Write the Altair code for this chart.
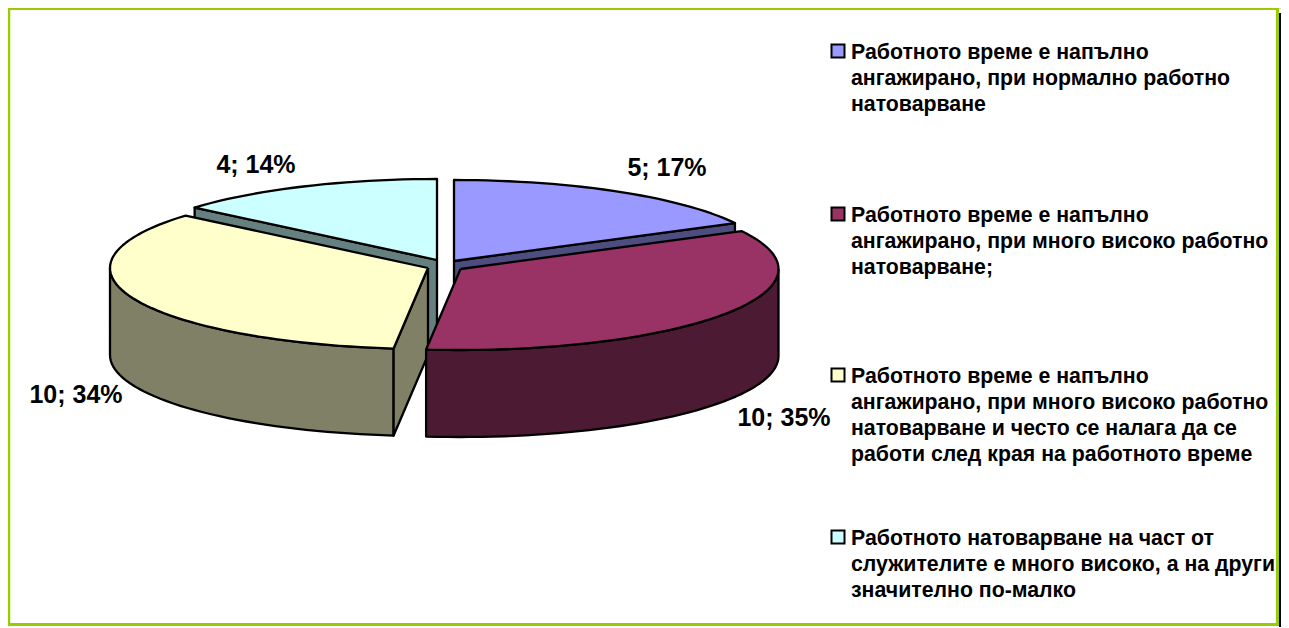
import math
import altair as alt
import pandas as pd

# --- chart values ---
counts = [5, 10, 10, 4]
percents = [17, 35, 34, 14]
top_colors = ["#9999FF", "#993366", "#FFFFCC", "#CCFFFF"]
wall_colors = ["#4D4D80", "#4D1A33", "#808066", "#668080"]
legend_lines = [
    ["Работното време е напълно", "ангажирано, при нормално работно", "натоварване"],
    ["Работното време е напълно", "ангажирано, при много високо работно", "натоварване;"],
    ["Работното време е напълно", "ангажирано, при много високо работно",
     "натоварване и често се налага да се", "работи след края на работното време"],
    ["Работното натоварване на част от", "служителите е много високо, а на други",
     "значително по-малко"],
]

# --- layout (page pixels) ---
W, H = 1273, 619
RX, RY, DEPTH = 318, 81, 87
CENTERS = [(454, 261), (460.5, 269), (428, 268), (437, 260)]
LABEL_POS = [(667, 168), (784, 418), (76, 395), (256, 165)]
LEGEND_X, LEGEND_Y, LINE_H = 851, [51, 214, 375, 537], 26.2
TEXT_DY = 1.5
SWATCH_X = 838
LABEL_FS, LEGEND_FS = 25, 21.3
FONT = "Liberation Sans"

xs = alt.Scale(domain=[8, 8 + W], range=[0, W])
ys = alt.Scale(domain=[8, 8 + H], range=[0, H])
X = alt.X("x:Q", scale=xs, axis=None)
Y = alt.Y("y:Q", scale=ys, axis=None)

total = sum(counts)
edges = [0.0]
for c in counts:
    edges.append(edges[-1] + 360.0 * c / total)


def rim(c, t):
    a = math.radians(t)
    return (c[0] + RX * math.sin(a), c[1] - RY * math.cos(a))


def arc(c, t0, t1):
    n = max(2, int(abs(t1 - t0) / 2) + 1)
    return [rim(c, t0 + (t1 - t0) * i / (n - 1)) for i in range(n)]


def polygon(pts, fill):
    pts = list(pts) + [pts[0]]
    df = pd.DataFrame({"x": [p[0] for p in pts], "y": [p[1] for p in pts],
                       "i": range(len(pts))})
    return (alt.Chart(df)
            .mark_line(fill=fill, stroke="black", strokeWidth=2.3, strokeJoin="round", clip=False)
            .encode(x=X, y=Y, order="i:Q"))


def down(pts):
    return [(p[0], p[1] + DEPTH) for p in pts]


def top(k):
    c = CENTERS[k]
    return polygon([c] + arc(c, edges[k], edges[k + 1]), top_colors[k])


def radial_wall(k, t):
    c = CENTERS[k]
    p = rim(c, t)
    return polygon([c, p] + down([p, c])[0:2], wall_colors[k])


def rim_wall(k, t0, t1):
    c = CENTERS[k]
    a = arc(c, t0, t1)
    return polygon(a + down(a)[::-1], wall_colors[k])


layers = [
    # slices painted back to front
    radial_wall(3, edges[3]), top(3),
    radial_wall(0, edges[1]), top(0),
    rim_wall(2, edges[2], 270), radial_wall(2, edges[2]), top(2),
    rim_wall(1, 90, edges[2]), top(1),
]

# data labels
lab = pd.DataFrame({
    "x": [p[0] for p in LABEL_POS], "y": [p[1] for p in LABEL_POS],
    "t": [f"{c}; {p}%" for c, p in zip(counts, percents)],
})
layers.append(alt.Chart(lab).mark_text(font=FONT, fontWeight="bold", fontSize=LABEL_FS,
                                       color="black", align="center", baseline="middle")
              .encode(x=X, y=Y, text="t:N"))

# legend
rows, swatches = [], []
for k, lines in enumerate(legend_lines):
    swatches.append({"x": SWATCH_X, "y": LEGEND_Y[k], "c": top_colors[k]})
    for j, s in enumerate(lines):
        rows.append({"x": LEGEND_X, "y": LEGEND_Y[k] + TEXT_DY + j * LINE_H, "t": s})
layers.append(alt.Chart(pd.DataFrame(rows))
              .mark_text(font=FONT, fontWeight="bold", fontSize=LEGEND_FS, color="black",
                         align="left", baseline="middle")
              .encode(x=X, y=Y, text="t:N"))
layers.append(alt.Chart(pd.DataFrame(swatches))
              .mark_point(shape="square", filled=True, size=169, stroke="black",
                          strokeWidth=2, opacity=1)
              .encode(x=X, y=Y, fill=alt.Fill("c:N", scale=None)))


# frame (pixel values relative to the drawing area)
def rule(x1, y1, x2, y2, color, w):
    return alt.Chart(pd.DataFrame({"a": [0]})).mark_rule(color=color, strokeWidth=w).encode(
        x=alt.value(x1), y=alt.value(y1), x2=alt.value(x2), y2=alt.value(y2))


GREEN = "#99CC00"
layers += [
    rule(0.75, 0, 0.75, 618, GREEN, 3),
    rule(0, 0.5, 1271, 0.5, GREEN, 3),
    rule(1269.5, 0, 1269.5, 618, GREEN, 3),
    rule(0, 616.5, 1271, 616.5, GREEN, 3),
    rule(1272, 5, 1272, 619, "black", 2),
]

chart = (alt.layer(*layers)
         .properties(width=W, height=H, padding=0,
                     autosize=alt.AutoSizeParams(type="none"))
         .configure_view(stroke=None)
         .configure(background="white"))
chart.save("out.html", embed_options={"renderer": "svg", "actions": False})
